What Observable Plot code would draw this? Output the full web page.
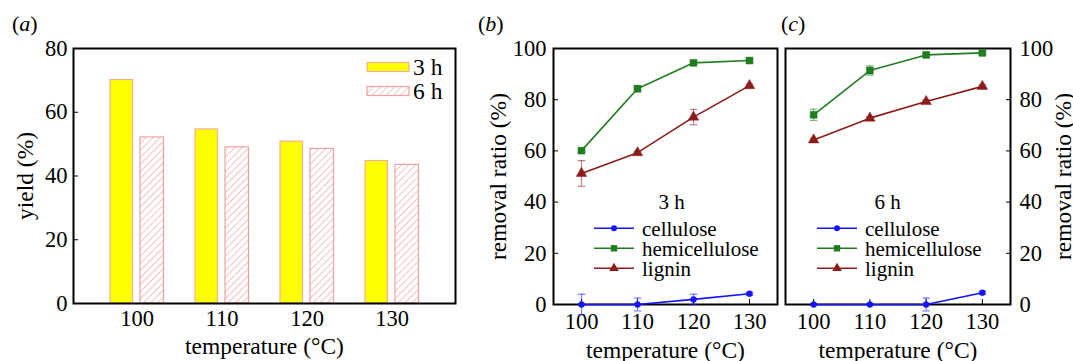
<!DOCTYPE html>
<html><head><meta charset="utf-8">
<script src="https://cdn.jsdelivr.net/npm/d3@7"></script>
<script src="https://cdn.jsdelivr.net/npm/@observablehq/plot@0.6"></script>
<style>
body{margin:0;background:#fff;}
#wrap{position:relative;width:1073px;height:361px;overflow:hidden;background:#fff;}
#wrap svg{position:absolute;top:0;overflow:visible;}
#wrap svg text{font-family:"Liberation Serif","Times New Roman",serif;}
.plab{position:absolute;font-family:"Liberation Serif","Times New Roman",serif;font-size:22px;line-height:24px;color:#000;}
</style></head><body><div id="wrap"></div>
<script>
// ---- data ----
const temps = [100, 110, 120, 130];
const durations = ["3 h", "6 h"];
const yield3h = [70.1, 54.6, 50.8, 44.7];
const yield6h = [52.1, 49.0, 48.5, 43.5];
const yTicksA = [0, 20, 40, 60, 80];
const yTicksB = [0, 20, 40, 60, 80, 100];
const series = ["cellulose", "hemicellulose", "lignin"];
const seriesColors = ["#1414ff", "#1f7d1f", "#8c1c1c"];
const seriesSymbols = ["circle", "square", "triangle"];
// 3 h removal ratio (%) and error
const cel3h = [0.0, 0.0, 2.0, 4.2];
const cel3hErr = [4.0, 2.5, 2.0, 0.6];
const hemi3h = [60.1, 84.3, 94.4, 95.3];
const hemi3hErr = [0.6, 1.2, 0.6, 0.6];
const lig3h = [51.2, 59.3, 73.2, 85.5];
const lig3hErr = [5.0, 0.6, 3.0, 0.6];
// 6 h removal ratio (%) and error
const cel6h = [0.0, 0.0, 0.0, 4.6];
const cel6hErr = [0.3, 0.3, 2.5, 0.6];
const hemi6h = [74.1, 91.4, 97.5, 98.3];
const hemi6hErr = [2.2, 1.8, 0.6, 0.6];
const lig6h = [64.3, 72.8, 79.3, 85.2];
const lig6hErr = [0.6, 0.6, 0.6, 0.6];

const FONT = '"Liberation Serif","Times New Roman",serif';
const TICK = 22.5, LABEL = 23.5, LEG = 21;
const wrap = document.getElementById("wrap");
const baseStyle = `font-family:${FONT};font-size:${TICK}px;color:#000;background:transparent;overflow:visible;`;

// ---- panel (a) ----
const bars3 = temps.map((t, i) => ({t, v: yield3h[i], d: durations[0]}));
const bars6 = temps.map((t, i) => ({t, v: yield6h[i], d: durations[1]}));
const A = Plot.plot({
  width: 470, height: 361, marginLeft: 73, marginRight: 15, marginTop: 48, marginBottom: 58,
  style: baseStyle,
  x: {type: "band", domain: temps, paddingInner: 0, paddingOuter: 0.229},
  y: {domain: [0, 80]},
  marks: [
    Plot.barY(bars6, {x: "t", y: "v", fill: "url(#hatch6)", stroke: "#f0a2a2", strokeWidth: 1.2, insetLeft: 46, insetRight: 15.5}),
    Plot.barY(bars3, {x: "t", y: "v", fill: "#ffff00", stroke: "#f2b09c", strokeWidth: 1.2, insetLeft: 16, insetRight: 46.5}),
    Plot.frame({stroke: "#000", strokeWidth: 2}),
    Plot.axisY({ticks: yTicksA, tickSize: -5, tickPadding: 11, label: null, fontSize: TICK}),
    Plot.axisX({tickSize: 0, tickPadding: 7, label: null, fontSize: TICK}),
    Plot.text(["yield (%)"], {text: d => d, frameAnchor: "left", textAnchor: "middle", lineAnchor: "middle", dx: -48, rotate: -90, fontSize: LABEL}),
    Plot.text(["temperature (°C)"], {text: d => d, frameAnchor: "bottom", textAnchor: "middle", lineAnchor: "middle", dy: 43, fontSize: LABEL})
  ]
});
A.style.left = "0px";
wrap.appendChild(A);
{
  const svg = d3.select(A);
  const defs = svg.insert("defs", ":first-child");
  const p = defs.append("pattern").attr("id", "hatch6").attr("patternUnits", "userSpaceOnUse")
    .attr("width", 5).attr("height", 5).attr("patternTransform", "rotate(45)");
  p.append("rect").attr("width", 5).attr("height", 5).attr("fill", "#fff");
  p.append("line").attr("x1", 0).attr("y1", 0).attr("x2", 0).attr("y2", 5).attr("stroke", "#f0a0a0").attr("stroke-width", 1.3);
  const fr = 470 - 15; // frame right
  const g = svg.append("g").attr("text-anchor", "start");
  const fills = ["#ffff00", "url(#hatch6)"], strokes = ["#f2b09c", "#f0a2a2"];
  durations.forEach((d, i) => {
    const cy = 67 + i * 24;
    g.append("rect").attr("x", fr - 88).attr("y", cy - 4.5).attr("width", 42).attr("height", 9)
      .attr("fill", fills[i]).attr("stroke", strokes[i]).attr("stroke-width", 1.2);
    g.append("text").attr("x", fr - 42).attr("y", cy).attr("dy", "0.35em").attr("font-size", LABEL).text(d);
  });
}

// ---- panels (b), (c) ----
function tidy(vals, errs) {
  const out = [];
  vals.forEach((arr, si) => arr.forEach((v, i) => out.push({t: temps[i], v, e: errs[si][i], s: series[si]})));
  return out;
}
const capSymbol = {draw(ctx) { ctx.moveTo(-3.8, 0); ctx.lineTo(3.8, 0); }};
const isCel = d => d.s === "cellulose";

function removalPlot(data, opts) {
  const {left, width, mL, mR, anchor, tag} = opts;
  const svg = Plot.plot({
    width, height: 361, marginLeft: mL, marginRight: mR, marginTop: 48, marginBottom: 57,
    style: baseStyle,
    x: {domain: [95, 135]},
    y: {domain: [0, 100]},
    color: {domain: series, range: seriesColors},
    symbol: {domain: series, range: seriesSymbols},
    marks: [
      Plot.frame({stroke: "#000", strokeWidth: 2}),
      Plot.axisX({ticks: temps, tickSize: -5, tickPadding: 14, label: null, fontSize: TICK}),
      Plot.axisY({anchor, ticks: yTicksB, tickSize: -5, tickPadding: anchor === "left" ? 12 : 14, label: null, fontSize: TICK}),
      Plot.ruleX(data, {x: "t", y1: d => d.v - d.e, y2: d => d.v + d.e, stroke: "s", strokeOpacity: 0.55, strokeWidth: 1.2}),
      Plot.dot(data, {x: "t", y: d => d.v + d.e, symbol: capSymbol, stroke: "s", strokeOpacity: 0.55, strokeWidth: 1.2}),
      Plot.dot(data, {x: "t", y: d => d.v - d.e, symbol: capSymbol, stroke: "s", strokeOpacity: 0.55, strokeWidth: 1.2}),
      Plot.line(data, {x: "t", y: "v", z: "s", stroke: "s", strokeWidth: 1.6}),
      Plot.dot(data, {filter: isCel, x: "t", y: "v", fill: "s", stroke: "s", symbol: "s", r: 3, strokeWidth: 0.5}),
      Plot.dot(data, {filter: d => !isCel(d), x: "t", y: "v", fill: "s", stroke: "s", symbol: "s", r: 3.9, strokeWidth: 0.5}),
      Plot.text(["removal ratio (%)"], {text: d => d, frameAnchor: anchor, textAnchor: "middle", lineAnchor: "middle", dx: anchor === "left" ? -55 : 53, rotate: -90, fontSize: LABEL}),
      Plot.text(["temperature (°C)"], {text: d => d, frameAnchor: "bottom", textAnchor: "middle", lineAnchor: "middle", dy: 46, fontSize: LABEL})
    ]
  });
  svg.style.left = left + "px";
  wrap.appendChild(svg);
  // legend
  const g = d3.select(svg).append("g").attr("text-anchor", "start");
  const fl = mL;
  g.append("text").attr("x", fl + opts.tagX).attr("y", 202).attr("dy", "0.35em").attr("text-anchor", "middle")
    .attr("font-size", LEG).text(tag);
  series.forEach((s, i) => {
    const cy = 228.3 + i * 20;
    const r = i === 0 ? 3 : 3.6;
    g.append("line").attr("x1", fl + opts.l1).attr("x2", fl + opts.l1 + 40).attr("y1", cy).attr("y2", cy)
      .attr("stroke", seriesColors[i]).attr("stroke-width", 1.6);
    const sym = {circle: d3.symbolCircle, square: d3.symbolSquare, triangle: d3.symbolTriangle}[seriesSymbols[i]];
    g.append("path").attr("d", d3.symbol(sym, r * r * Math.PI)())
      .attr("transform", `translate(${fl + opts.l1 + 20},${cy})`).attr("fill", seriesColors[i]);
    g.append("text").attr("x", fl + opts.l1 + 48).attr("y", cy).attr("dy", "0.35em").attr("font-size", LEG).text(s);
  });
}

removalPlot(tidy([cel3h, hemi3h, lig3h], [cel3hErr, hemi3hErr, lig3hErr]),
  {left: 470, width: 310, mL: 83, mR: 3, anchor: "left", tag: "3 h", tagX: 118.7, l1: 41});
removalPlot(tidy([cel6h, hemi6h, lig6h], [cel6hErr, hemi6hErr, lig6hErr]),
  {left: 780, width: 293, mL: 5, mR: 63, anchor: "right", tag: "6 h", tagX: 102.7, l1: 32});

// panel letters
[["a", 12], ["b", 478], ["c", 781]].forEach(([l, x]) => {
  const d = document.createElement("div");
  d.className = "plab";
  d.style.left = x + "px"; d.style.top = "12px";
  d.innerHTML = `(<i>${l}</i>)`;
  wrap.appendChild(d);
});
</script></body></html>
